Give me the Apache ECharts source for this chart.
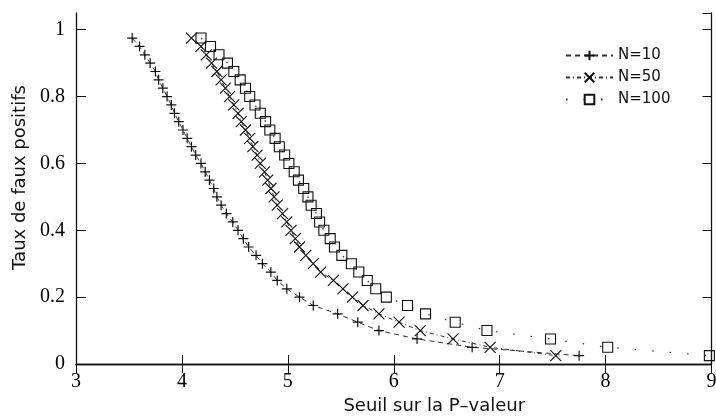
<!DOCTYPE html>
<html>
<head>
<meta charset="utf-8">
<script src="https://cdn.jsdelivr.net/npm/echarts@6/dist/echarts.min.js"></script>
<style>
  html, body { margin: 0; padding: 0; background: #fff; }
  #chart { width: 716px; height: 420px; }
</style>
</head>
<body>
<div id="chart"></div>
<script type="text/javascript">
    // taux de faux positifs (axe y), commun aux trois courbes
    var tauxFP = [0.975, 0.95, 0.925, 0.9, 0.875, 0.85, 0.825, 0.8, 0.775, 0.75,
        0.725, 0.7, 0.675, 0.65, 0.625, 0.6, 0.575, 0.55, 0.525, 0.5,
        0.475, 0.45, 0.425, 0.4, 0.375, 0.35, 0.325, 0.3, 0.275, 0.25,
        0.225, 0.2, 0.175, 0.15, 0.125, 0.1, 0.075, 0.05, 0.025];
    // seuil sur la P-valeur pour chaque N
    var seuilN10 = [3.53, 3.60, 3.65, 3.70, 3.75, 3.78, 3.82, 3.86, 3.90, 3.93,
        3.97, 4.01, 4.05, 4.09, 4.13, 4.18, 4.22, 4.26, 4.30, 4.33,
        4.37, 4.42, 4.48, 4.53, 4.58, 4.63, 4.70, 4.76, 4.84, 4.90,
        4.99, 5.11, 5.24, 5.47, 5.66, 5.86, 6.22, 6.74, 7.75];
    var seuilN50 = [4.09, 4.18, 4.23, 4.28, 4.33, 4.37, 4.41, 4.45, 4.49, 4.53,
        4.56, 4.60, 4.64, 4.67, 4.71, 4.74, 4.78, 4.81, 4.84, 4.87,
        4.90, 4.95, 4.99, 5.03, 5.07, 5.11, 5.17, 5.24, 5.31, 5.43,
        5.52, 5.61, 5.71, 5.86, 6.05, 6.25, 6.56, 6.91, 7.53];
    var seuilN100 = [4.18, 4.27, 4.35, 4.43, 4.49, 4.55, 4.60, 4.64, 4.69, 4.74,
        4.79, 4.83, 4.88, 4.92, 4.97, 5.01, 5.06, 5.10, 5.15, 5.19,
        5.22, 5.27, 5.30, 5.34, 5.40, 5.44, 5.51, 5.60, 5.67, 5.75,
        5.83, 5.93, 6.13, 6.30, 6.58, 6.88, 7.48, 8.02, 8.98];
    var noms = ['N=10', 'N=50', 'N=100'];

    function paires(xs) {
        return xs.map(function (x, i) { return [x, tauxFP[i]]; });
    }

    var chart = echarts.init(document.getElementById('chart'));

    var axeLigne = {lineStyle: {color: '#111', width: 1.3}};
    var serif = 'Liberation Serif, Times New Roman, Times, serif';

    var option = {
        animation: false,
        backgroundColor: '#fff',
        grid: {left: 76, right: 4.5, top: 13, bottom: 56, outerBoundsMode: 'none'},
        legend: {
            orient: 'vertical',
            left: 560,
            top: 43,
            itemWidth: 47,
            itemHeight: 12,
            itemGap: 7,
            textStyle: {fontFamily: 'DejaVu Sans', fontSize: 15, color: '#111', lineHeight: 12},
            data: noms
        },
        xAxis: [{
            type: 'value',
            min: 3, max: 9, interval: 1,
            name: 'Seuil sur la P\u2013valeur',
            nameLocation: 'middle',
            nameGap: 29,
            nameTextStyle: {fontFamily: 'DejaVu Sans', fontSize: 18, color: '#111', padding: [0, 0, 0, 81]},
            axisLine: axeLigne,
            axisTick: {inside: true, length: 9, lineStyle: {color: '#111'}},
            axisLabel: {margin: 8, fontFamily: serif, fontSize: 20, color: '#000'},
            splitLine: {show: false}
        }, {
            type: 'value',
            position: 'top',
            min: 3, max: 9, interval: 1,
            axisLine: axeLigne,
            axisTick: {inside: true, length: 9, lineStyle: {color: '#111'}},
            axisLabel: {show: false},
            splitLine: {show: false}
        }],
        yAxis: [{
            type: 'value',
            min: 0, max: 1.05, interval: 0.2,
            name: 'Taux de faux positifs',
            nameLocation: 'middle',
            nameGap: 44,
            nameTextStyle: {fontFamily: 'DejaVu Sans', fontSize: 18, color: '#111', padding: [0, 0, 0, 22]},
            axisLine: axeLigne,
            axisTick: {inside: true, length: 10, lineStyle: {color: '#111'}},
            axisLabel: {margin: 11, showMaxLabel: false, fontFamily: serif, fontSize: 20, color: '#000'},
            splitLine: {show: false}
        }, {
            type: 'value',
            position: 'right',
            min: 0, max: 1.05, interval: 0.2,
            axisLine: axeLigne,
            axisTick: {inside: true, length: 9, lineStyle: {color: '#111'}},
            axisLabel: {show: false},
            splitLine: {show: false}
        }],
        series: [
            {
                name: noms[0],
                type: 'line',
                data: paires(seuilN10),
                symbol: 'path://M5,0L5,10M0,5L10,5',
                symbolSize: 10,
                itemStyle: {color: 'rgba(0,0,0,0)', borderColor: '#111', borderWidth: 1.2},
                lineStyle: {color: '#333', width: 1, type: [5, 4]}
            },
            {
                name: noms[1],
                type: 'line',
                data: paires(seuilN50),
                symbol: 'path://M0,0L10,10M10,0L0,10',
                symbolSize: 11,
                itemStyle: {color: 'rgba(0,0,0,0)', borderColor: '#111', borderWidth: 1.1},
                lineStyle: {color: '#333', width: 1, type: [4, 3, 1, 3]}
            },
            {
                name: noms[2],
                type: 'line',
                data: paires(seuilN100),
                symbol: 'rect',
                symbolSize: 10,
                itemStyle: {color: 'rgba(0,0,0,0)', borderColor: '#111', borderWidth: 1.1},
                lineStyle: {color: '#333', width: 1.2, type: [1.5, 16]}
            }
        ]
    };
    chart.setOption(option);
</script>
</body>
</html>
